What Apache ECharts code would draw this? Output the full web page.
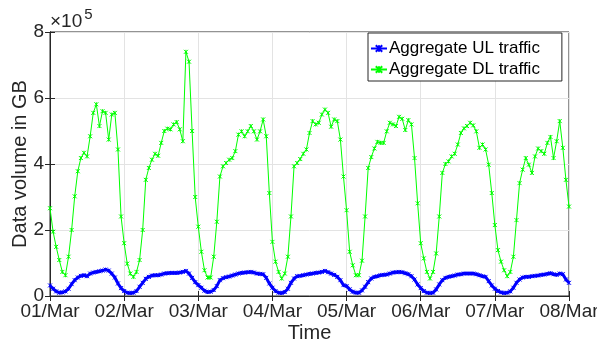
<!DOCTYPE html>
<html>
<head>
<meta charset="utf-8">
<script src="https://cdn.jsdelivr.net/npm/echarts@6/dist/echarts.min.js"></script>
<style>html,body{margin:0;padding:0;background:#fff}#c{width:597px;height:345px}</style>
</head>
<body>
<div id="c"></div>
<script>
// Hourly samples, 01/Mar 00:00 .. 08/Mar 00:00, values in units of 1e5 GB
const tickLabels = ["01/Mar","02/Mar","03/Mar","04/Mar","05/Mar","06/Mar","07/Mar","08/Mar"];
const seriesNames = ["Aggregate UL traffic","Aggregate DL traffic"];

const dlDay1 = [2.66,1.95,1.49,1.09,0.73,0.63,1.19,2.0,3.02,3.78,4.18,4.34,4.23,4.84,5.55,5.81,5.15,5.6,5.55,4.74,5.5,5.55,4.44,2.41];
const dlDay2 = [1.6,0.98,0.68,0.58,0.73,1.09,2.0,3.52,3.88,4.13,4.31,4.25,4.64,5.0,5.07,5.05,5.2,5.27,5.05,4.69,7.4,7.1,5.0,3.0];
const dlDay3 = [2.1,1.34,0.78,0.56,0.56,1.19,2.25,3.62,3.93,4.03,4.13,4.18,4.39,4.89,4.99,4.84,4.99,5.15,4.99,4.74,4.99,5.35,4.84,3.12];
const dlDay4 = [1.64,1.04,0.73,0.53,0.68,1.19,2.41,3.93,4.03,4.15,4.31,4.44,4.94,5.3,5.2,5.25,5.5,5.65,5.55,5.13,5.35,5.3,4.74,3.62];
const dlDay5 = [2.6,1.34,0.93,0.63,0.63,1.07,2.41,3.88,4.21,4.47,4.67,4.64,4.64,4.99,5.25,5.2,5.15,5.43,5.37,5.03,5.33,5.2,4.18,2.81];
const dlDay6 = [1.6,1.14,0.73,0.53,0.73,1.29,2.41,3.73,4.0,4.08,4.23,4.31,4.59,4.94,5.08,5.15,5.25,5.17,4.99,4.49,4.59,4.44,3.98,3.12];
const dlDay7 = [2.15,1.39,1.04,0.78,0.6,0.73,1.19,2.3,3.42,3.83,4.18,3.98,3.73,4.23,4.47,4.39,4.31,4.64,4.82,4.18,4.69,5.3,4.49,3.52,2.71];

const ulDay1 = [0.32,0.22,0.14,0.1,0.11,0.14,0.22,0.36,0.48,0.56,0.61,0.63,0.6,0.68,0.71,0.73,0.75,0.77,0.8,0.77,0.68,0.56,0.38,0.24];
const ulDay2 = [0.15,0.1,0.09,0.1,0.15,0.28,0.4,0.52,0.58,0.62,0.63,0.63,0.65,0.68,0.69,0.7,0.7,0.7,0.71,0.73,0.76,0.68,0.55,0.42];
const ulDay3 = [0.33,0.25,0.16,0.12,0.13,0.18,0.3,0.48,0.54,0.57,0.59,0.62,0.65,0.68,0.7,0.71,0.72,0.73,0.71,0.68,0.67,0.66,0.55,0.38];
const ulDay4 = [0.25,0.15,0.1,0.09,0.12,0.22,0.4,0.53,0.6,0.61,0.63,0.65,0.67,0.68,0.7,0.71,0.73,0.76,0.72,0.68,0.64,0.58,0.48,0.33];
const ulDay5 = [0.3,0.2,0.13,0.1,0.1,0.17,0.28,0.42,0.53,0.58,0.6,0.63,0.64,0.65,0.68,0.71,0.72,0.73,0.72,0.69,0.66,0.6,0.5,0.35];
const ulDay6 = [0.24,0.15,0.1,0.09,0.1,0.2,0.35,0.48,0.55,0.58,0.6,0.62,0.65,0.66,0.68,0.68,0.68,0.68,0.66,0.63,0.6,0.58,0.45,0.32];
const ulDay7 = [0.22,0.15,0.11,0.09,0.1,0.14,0.25,0.4,0.5,0.56,0.58,0.58,0.6,0.61,0.62,0.64,0.65,0.67,0.69,0.66,0.64,0.68,0.66,0.5,0.4];

const dl = [].concat(dlDay1,dlDay2,dlDay3,dlDay4,dlDay5,dlDay6,dlDay7);
const ul = [].concat(ulDay1,ulDay2,ulDay3,ulDay4,ulDay5,ulDay6,ulDay7);
const dlData = dl.map((v,i)=>[i,v]);
const ulData = ul.map((v,i)=>[i,v]);

const txt = '#262626';
const font = '"Liberation Sans", Arial, Helvetica, sans-serif';
const cross = 'path://M0,0L10,10M10,0L0,10M5,0L5,10';

const chart = echarts.init(document.getElementById('c'), null, {renderer:'canvas'});
chart.setOption({
  animation:false,
  textStyle:{fontFamily:font},
  title:{
    text:'{a|×10}{b|5}', left:50, top:7, padding:0,
    textStyle:{fontWeight:'normal',rich:{
      a:{fontSize:19,color:txt,fontFamily:font,fontWeight:'normal',verticalAlign:'bottom'},
      b:{fontSize:15,color:txt,fontFamily:font,fontWeight:'normal',verticalAlign:'top',padding:[0,0,9,2]}
    }}
  },
  grid:{left:50,right:28,top:32,bottom:49,show:true,borderColor:txt,borderWidth:1,backgroundColor:'#fff',
        containLabel:false,outerBoundsMode:'none'},
  legend:{
    orient:'vertical', left:368, top:33,
    data:seriesNames,
    backgroundColor:'#fff', borderColor:txt, borderWidth:1,
    padding:[7,22,3,2], itemGap:4, itemWidth:16, itemHeight:8,
    textStyle:{fontSize:17,color:'#000',fontFamily:font,padding:[0,0,0,-3]}
  },
  xAxis:[{
    type:'value', min:0, max:168, interval:24,
    name:'Time', nameLocation:'middle', nameGap:27, nameMoveOverlap:false,
    nameTextStyle:{fontSize:20,color:txt,fontFamily:font},
    axisLine:{show:true,onZero:false,lineStyle:{color:txt}},
    axisTick:{show:true,inside:true,length:5,lineStyle:{color:txt}},
    axisLabel:{fontSize:19,color:txt,fontFamily:font,margin:6,
      formatter:function(v){return tickLabels[Math.round(v/24)]||'';}},
    splitLine:{show:true,lineStyle:{color:'#e3e3e3',width:1}}
  },{
    type:'value', min:0, max:168, interval:24, position:'top',
    axisLine:{show:true,lineStyle:{color:txt}},
    axisTick:{show:true,inside:true,length:5,lineStyle:{color:txt}},
    axisLabel:{show:false}, splitLine:{show:false}
  }],
  yAxis:[{
    type:'value', min:0, max:8, interval:2,
    name:'Data volume in GB', nameLocation:'middle', nameGap:20, nameMoveOverlap:false,
    nameTextStyle:{fontSize:20,color:txt,fontFamily:font},
    axisLine:{show:true,onZero:false,lineStyle:{color:txt}},
    axisTick:{show:true,inside:true,length:5,lineStyle:{color:txt}},
    axisLabel:{fontSize:19,color:txt,fontFamily:font,margin:6},
    splitLine:{show:true,lineStyle:{color:'#e3e3e3',width:1}}
  },{
    type:'value', min:0, max:8, interval:2, position:'right',
    axisLine:{show:true,lineStyle:{color:txt}},
    axisTick:{show:true,inside:true,length:5,lineStyle:{color:txt}},
    axisLabel:{show:false}, splitLine:{show:false}
  }],
  series:[{
    name:seriesNames[0], type:'line', data:ulData,
    symbol:cross, symbolSize:4, showAllSymbol:true,
    lineStyle:{color:'#0000ff',width:3},
    itemStyle:{color:'#0000ff',borderColor:'#0000ff',borderWidth:1},
    z:3
  },{
    name:seriesNames[1], type:'line', data:dlData,
    symbol:cross, symbolSize:4, showAllSymbol:true,
    lineStyle:{color:'#00ff00',width:1},
    itemStyle:{color:'#00ff00',borderColor:'#00ff00',borderWidth:1},
    z:2
  }]
});
</script>
</body>
</html>
